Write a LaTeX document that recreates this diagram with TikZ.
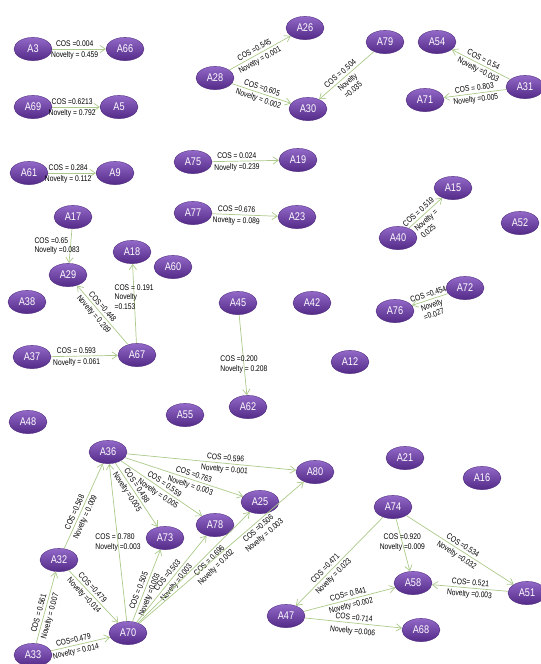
\documentclass[tikz,border=0pt]{standalone}
\usepackage{fontspec}
\setmainfont{Liberation Sans}[FakeStretch=0.82]
\usepackage{tikz}
\usetikzlibrary{arrows.meta,shapes.geometric}
\definecolor{agenttop}{RGB}{146,104,200}
\definecolor{agentbot}{RGB}{84,42,136}
\definecolor{agentrim}{RGB}{76,40,122}
\definecolor{linkgreen}{RGB}{172,202,138}

\begin{document}
\begin{tikzpicture}[
  x=0.03cm, y=-0.03cm,
  agent/.style={ellipse, draw=agentrim, line width=0.3pt, top color=agenttop, bottom color=agentbot, minimum width=1.14cm, minimum height=0.7cm, inner sep=0pt, text=white, font=\fontsize{9.5}{10}\selectfont},
  arrow/.style={-{Straight Barb[length=1.6mm,width=2.2mm]}, draw=linkgreen, line width=0.6pt},
  val/.style={font=\fontsize{7}{8}\selectfont, inner sep=0.8pt, sloped, midway},
  valv/.style={font=\fontsize{7}{8}\selectfont, inner sep=0.8pt, align=left, midway},
  up/.style={above=1.2pt},
  down/.style={below=1.2pt}
]
\useasboundingbox (0,0) rectangle (541,664);

% agents
\node[agent] (A3) at (33,49) {A3};
\node[agent] (A66) at (125,49) {A66};
\node[agent] (A69) at (33,107) {A69};
\node[agent] (A5) at (119,107) {A5};
\node[agent] (A61) at (29,173) {A61};
\node[agent] (A9) at (115,173) {A9};
\node[agent] (A28) at (215,78) {A28};
\node[agent] (A26) at (305,28) {A26};
\node[agent] (A30) at (308,109) {A30};
\node[agent] (A79) at (385,42) {A79};
\node[agent] (A54) at (437,42) {A54};
\node[agent] (A31) at (525,87) {A31};
\node[agent] (A71) at (425,100) {A71};
\node[agent] (A75) at (193,162) {A75};
\node[agent] (A19) at (298,160) {A19};
\node[agent] (A77) at (193,213) {A77};
\node[agent] (A23) at (297,217) {A23};
\node[agent] (A15) at (453,188) {A15};
\node[agent] (A40) at (398,238) {A40};
\node[agent] (A52) at (520,223) {A52};
\node[agent] (A17) at (73,217) {A17};
\node[agent] (A29) at (68,275) {A29};
\node[agent] (A18) at (132,252) {A18};
\node[agent] (A60) at (173,267) {A60};
\node[agent] (A38) at (27,302) {A38};
\node[agent] (A45) at (238,303) {A45};
\node[agent] (A42) at (312,303) {A42};
\node[agent] (A72) at (465,288) {A72};
\node[agent] (A76) at (395,311) {A76};
\node[agent] (A37) at (32,357) {A37};
\node[agent] (A67) at (137,355) {A67};
\node[agent] (A12) at (350,362) {A12};
\node[agent] (A62) at (248,407) {A62};
\node[agent] (A55) at (185,415) {A55};
\node[agent] (A48) at (28,422) {A48};
\node[agent] (A36) at (108,452) {A36};
\node[agent] (A80) at (315,472) {A80};
\node[agent] (A21) at (405,458) {A21};
\node[agent] (A16) at (482,478) {A16};
\node[agent] (A25) at (260,502) {A25};
\node[agent] (A78) at (215,525) {A78};
\node[agent] (A73) at (165,538) {A73};
\node[agent] (A74) at (393,507) {A74};
\node[agent] (A32) at (59,560) {A32};
\node[agent] (A58) at (413,583) {A58};
\node[agent] (A51) at (527,593) {A51};
\node[agent] (A47) at (286,616) {A47};
\node[agent] (A68) at (421,630) {A68};
\node[agent] (A70) at (128,633) {A70};
\node[agent] (A33) at (33,655) {A33};

% links, top part
\draw[arrow] (A3) -- (A66) node[val, pos=.42, up] {COS =0.004} node[val, pos=.42, down] {Novelty = 0.459};
\draw[arrow] (A69) -- (A5) node[val, pos=.42, up] {COS =0.6213} node[val, pos=.42, down] {Novelty = 0.792};
\draw[arrow] (A61) -- (A9) node[val, pos=.42, up] {COS = 0.284} node[val, pos=.42, down] {Novelty = 0.112};
\draw[arrow] (A28) -- (A26) node[val, pos=.45, up] {COS =0.545} node[val, pos=.45, down] {Novelty = 0.001};
\draw[arrow] (A28) -- (A30) node[val, pos=.48, up] {COS =0.605} node[val, pos=.48, down] {Novelty = 0.002};
\draw[arrow] (A79) -- (A30) node[val, pos=.55, up] {COS = 0.504} node[val, pos=.55, down, align=left] {Novelty\\=0.035};
\draw[arrow] (A31) -- (A54) node[val, up] {COS = 0.54} node[val, down] {Novelty =0.003};
\draw[arrow] (A31) -- (A71) node[val, up] {COS = 0.803} node[val, down] {Novelty =0.005};
\draw[arrow] (A75) -- (A19) node[val, pos=.37, up] {COS = 0.024} node[val, pos=.37, down] {Novelty =0.239};
\draw[arrow] (A77) -- (A23) node[val, pos=.37, up] {COS =0.676} node[val, pos=.37, down] {Novelty = 0.089};
\draw[arrow] (A40) -- (A15) node[val, pos=.4, up] {COS = 0.519} node[val, pos=.4, down, align=left] {Novelty =\\0.025};

% links, middle part
\draw[arrow] (A17) -- (A29) node[valv, xshift=-0.4cm] {COS =0.65\\Novelty =0.083};
\draw[arrow] (A67) -- (A18) node[valv, pos=.58] {COS = 0.191\\Novelty\\=0.153};
\draw[arrow] (A67) -- (A29) node[val, pos=.58, up] {COS =0.448} node[val, pos=.58, down] {Novelty = 0.269};
\draw[arrow] (A37) -- (A67) node[val, pos=.38, up] {COS = 0.593} node[val, pos=.38, down] {Novelty = 0.061};
\draw[arrow] (A45) -- (A62) node[valv, pos=.62] {COS =0.200\\Novelty = 0.208};
\draw[arrow] (A72) -- (A76) node[val, up] {COS =0.454} node[val, down, align=left] {Novelty\\=0.027};

% links, bottom part
\draw[arrow] (A36) -- (A80) node[val, pos=.58, up] {COS =0.596} node[val, pos=.58, down] {Novelty = 0.001};
\draw[arrow] (A36) -- (A25) node[val, pos=.57, up] {COS =0.763} node[val, pos=.57, down] {Novelty = 0.003};
\draw[arrow] (A36) -- (A78) node[val, pos=.5, up] {COS = 0.559} node[val, pos=.5, down] {Novelty = 0.005};
\draw[arrow] (A36) -- (A73) node[val, pos=.4, up] {COS = 0.488} node[val, pos=.4, down] {Novelty =0.005};
\draw[arrow] (A70) -- (A36) node[valv] {COS = 0.780\\Novelty =0.003};
\draw[arrow] (A32) -- (A36) node[val, pos=.4, up] {COS =0.568} node[val, pos=.4, down] {Novelty = 0.009};
\draw[arrow] (A33) -- (A32) node[val, pos=.4, up] {COS = 0.561} node[val, pos=.4, down] {Novelty = 0.007};
\draw[arrow] (A32) -- (A70) node[val, pos=.4, up] {COS =0.479} node[val, pos=.4, down] {Novelty =0.014};
\draw[arrow] (A33) -- (A70) node[val, pos=.4, up] {COS=0.479} node[val, pos=.4, down] {Novelty = 0.014};
\draw[arrow] (A70) -- (A73) node[val, pos=.4, up] {COS = 0.505} node[val, pos=.4, down] {Novelty =0.003};
\draw[arrow] (A70) -- (A78) node[val, pos=.5, up] {COS =0.503} node[val, pos=.5, down] {Novelty =0.003};
\draw[arrow] (A70) -- (A25) node[val, pos=.6, down, align=center] {COS = 0.696\\Novelty = 0.002};
\draw[arrow] (A70) -- (A80) node[val, pos=.7, down, align=center] {COS =0.506\\Novelty = 0.003};
\draw[arrow] (A74) -- (A47) node[val, pos=.62, up] {COS =0.471} node[val, pos=.62, down] {Novelty = 0.023};
\draw[arrow] (A74) -- (A58) node[valv, pos=.45, align=center] {COS =0.920\\Novelty =0.009};
\draw[arrow] (A74) -- (A51) node[val, up] {COS =0.534} node[val, down] {Novelty =0.032};
\draw[arrow] (A51) -- (A58) node[val, up] {COS= 0.521} node[val, down] {Novelty =0.003};
\draw[arrow] (A47) -- (A58) node[val, up] {COS= 0.841} node[val, down] {Novelty =0.002};
\draw[arrow] (A47) -- (A68) node[val, up] {COS =0.714} node[val, below=3pt] {Novelty =0.006};

\end{tikzpicture}
\end{document}
